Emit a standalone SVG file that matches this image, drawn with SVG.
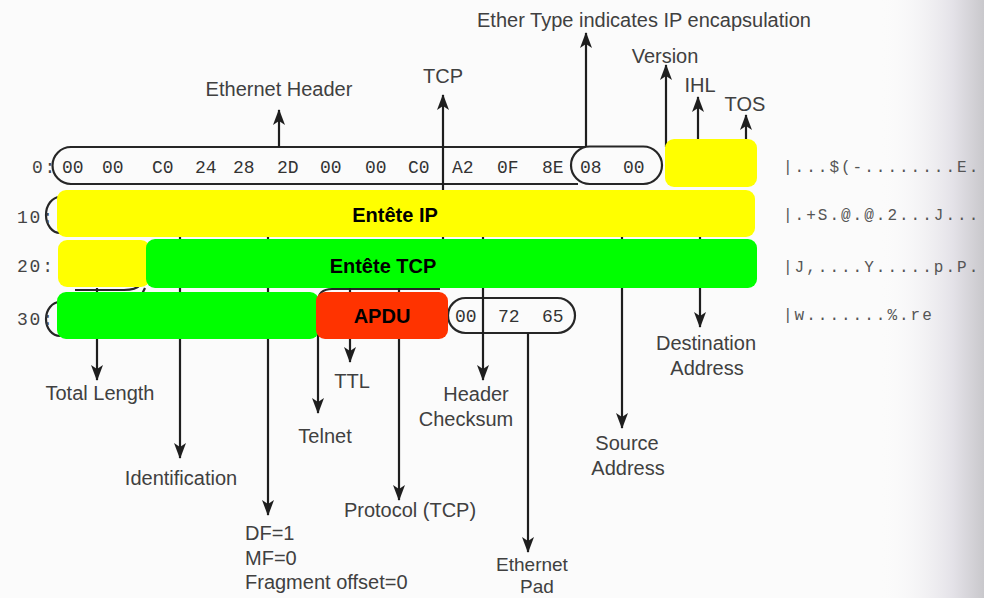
<svg xmlns="http://www.w3.org/2000/svg" width="984" height="598" viewBox="0 0 984 598">
<style>
  .hex { font-family: "Liberation Mono", "DejaVu Sans Mono", monospace; font-size: 18px; fill: #333; }
  .off { font-family: "Liberation Mono", "DejaVu Sans Mono", monospace; font-size: 18px; fill: #444; letter-spacing: 1.8px; }
  .asc { font-family: "Liberation Mono", "DejaVu Sans Mono", monospace; font-size: 16px; fill: #555; letter-spacing: 2px; }
  .lbl { font-family: "Liberation Sans", Arial, sans-serif; font-size: 20px; fill: #404040; }
  .sm { font-size: 19px; }
  .mid { text-anchor: middle; }
  .ov { font-family: "Liberation Sans", Arial, sans-serif; font-size: 20px; font-weight: bold; fill: #000; text-anchor: middle; }
  .pill { fill: none; stroke: #262626; stroke-width: 2.2; }
  .conn line { stroke: #1e1e1e; stroke-width: 2.2; marker-end: url(#ah); }
</style>
<defs>
  <marker id="ah" viewBox="0 0 16 12" refX="15" refY="6" markerWidth="16" markerHeight="12" markerUnits="userSpaceOnUse" orient="auto">
    <path d="M0,0 L16,6 L0,12 L4,6 Z" fill="#1e1e1e"/>
  </marker>
  <linearGradient id="edge" x1="0" y1="0" x2="1" y2="0">
    <stop offset="0" stop-color="#fbfbfb" stop-opacity="0"/>
    <stop offset="0.7" stop-color="#e4e2e8"/>
    <stop offset="1" stop-color="#c9c8cc"/>
  </linearGradient>
</defs>
<rect width="984" height="598" fill="#fbfbfb"/>
<rect x="880" y="0" width="104" height="598" fill="url(#edge)"/>

<g id="hexdump">
  <path class="pill" d="M586,147 H71 A18.5,18.5 0 0 0 71,184 H578"/>
  <rect class="pill" x="571" y="146.5" width="91" height="37.5" rx="18.75"/>
  <path class="pill" d="M60,197 A14,18 0 0 0 60,233"/>
  <path class="pill" d="M75,290 H124 Q136,290 140,285"/>
  <line class="pill" x1="145" y1="288" x2="142" y2="294"/>
  <path class="pill" d="M60,302 A14,17 0 0 0 60,336"/>
  <path class="pill" d="M318,302 Q318,289 332,289 H440"/>
  <rect class="pill" x="448" y="298" width="127" height="35" rx="17.5"/>
  <text class="off" x="32" y="173">0:</text>
  <text class="off" x="17" y="223">10:</text>
  <text class="off" x="17" y="272">20:</text>
  <text class="off" x="17" y="325">30:</text>
  <text class="hex" y="173"><tspan x="62">00</tspan><tspan x="102">00</tspan><tspan x="152">C0</tspan><tspan x="195">24</tspan><tspan x="233">28</tspan><tspan x="277">2D</tspan><tspan x="320">00</tspan><tspan x="365">00</tspan><tspan x="408">C0</tspan><tspan x="452">A2</tspan><tspan x="497">0F</tspan><tspan x="542">8E</tspan><tspan x="580">08</tspan><tspan x="623">00</tspan></text>
  <text class="hex" y="322"><tspan x="455">00</tspan><tspan x="498">72</tspan><tspan x="542">65</tspan></text>
</g>

<g id="ascii">
  <text class="asc" x="783" y="172">|...$(-........E.</text>
  <text class="asc" x="783" y="220">|.+S.@.@.2...J...</text>
  <text class="asc" x="783" y="272">|J,....Y.....p.P.</text>
  <text class="asc" x="783" y="320">|w.......%.re</text>
</g>

<g id="connectors" class="conn">
  <line x1="279" y1="147" x2="279" y2="110"/>
  <line x1="443" y1="262" x2="443" y2="95"/>
  <line x1="586" y1="147" x2="586" y2="33"/>
  <line x1="666" y1="147" x2="666" y2="65"/>
  <line x1="698" y1="139" x2="698" y2="97"/>
  <line x1="746" y1="139" x2="746" y2="115"/>
  <line x1="97" y1="288" x2="97" y2="380"/>
  <line x1="180" y1="215" x2="180" y2="458"/>
  <line x1="268" y1="215" x2="268" y2="515"/>
  <line x1="318" y1="300" x2="318" y2="413"/>
  <line x1="350" y1="265" x2="350" y2="362"/>
  <line x1="399" y1="265" x2="399" y2="500"/>
  <line x1="483" y1="215" x2="483" y2="380"/>
  <line x1="528" y1="333" x2="528" y2="552"/>
  <line x1="622" y1="215" x2="622" y2="428"/>
  <line x1="700" y1="215" x2="700" y2="327"/>
</g>

<g id="labels">
  <text class="lbl mid" x="644" y="27">Ether Type indicates IP encapsulation</text>
  <text class="lbl mid" x="665" y="63">Version</text>
  <text class="lbl mid" x="443" y="83">TCP</text>
  <text class="lbl mid" x="279" y="96">Ethernet Header</text>
  <text class="lbl mid" x="700" y="92">IHL</text>
  <text class="lbl mid" x="745" y="111">TOS</text>
  <text class="lbl mid" x="706" y="350">Destination</text>
  <text class="lbl mid" x="707" y="375">Address</text>
  <text class="lbl mid" x="100" y="400">Total Length</text>
  <text class="lbl mid" x="352" y="388">TTL</text>
  <text class="lbl mid" x="476" y="401">Header</text>
  <text class="lbl mid" x="466" y="426">Checksum</text>
  <text class="lbl mid" x="325" y="443">Telnet</text>
  <text class="lbl mid" x="627" y="450">Source</text>
  <text class="lbl mid" x="628" y="475">Address</text>
  <text class="lbl mid" x="181" y="485">Identification</text>
  <text class="lbl mid" x="410" y="517">Protocol (TCP)</text>
  <text class="lbl" x="245" y="540">DF=1</text>
  <text class="lbl" x="245" y="565">MF=0</text>
  <text class="lbl" x="245" y="589">Fragment offset=0</text>
  <text class="lbl sm mid" x="532" y="571">Ethernet</text>
  <text class="lbl sm mid" x="537" y="593">Pad</text>
</g>

<g id="overlay-tos">
  <rect x="665" y="139" width="92" height="48" rx="9" fill="#ffff00"/>
</g>
<g id="entete-ip">
  <rect x="57" y="190" width="698" height="47" rx="9" fill="#ffff00"/>
  <rect x="58" y="240" width="92" height="47" rx="9" fill="#ffff00"/>
  <text class="ov" x="395" y="222">Entête IP</text>
</g>
<g id="entete-tcp">
  <rect x="146" y="239" width="611" height="49" rx="9" fill="#00ff00"/>
  <rect x="57" y="292" width="262" height="47" rx="9" fill="#00ff00"/>
  <text class="ov" x="383" y="273">Entête TCP</text>
</g>
<g id="apdu">
  <rect x="316" y="292" width="132" height="47" rx="9" fill="#ff3300"/>
  <text class="ov" x="382" y="323">APDU</text>
</g>
</svg>
